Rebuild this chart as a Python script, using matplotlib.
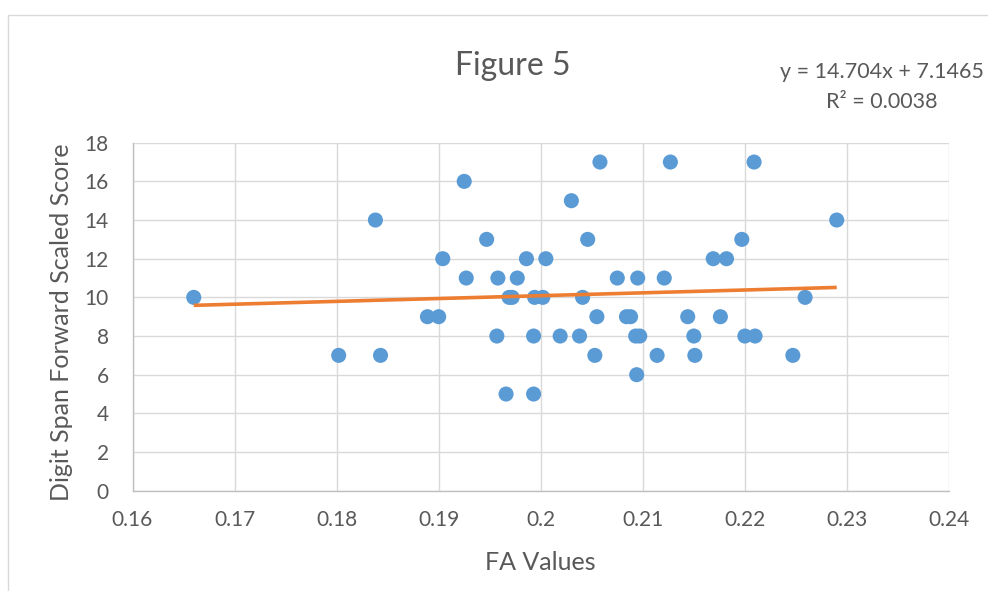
import matplotlib
matplotlib.use("Agg")
import matplotlib.pyplot as plt
from matplotlib.patches import Rectangle
import numpy as np

plt.rcParams['font.family'] = ['Lato', 'DejaVu Sans']

# ---- data ----
fa_values = [0.1660, 0.1838, 0.1802, 0.1843, 0.1925, 0.1947, 0.1904, 0.1927,
             0.1958, 0.1977, 0.1986, 0.2005, 0.1969, 0.1972, 0.1994, 0.2002,
             0.1889, 0.1900, 0.1957, 0.1993, 0.1966, 0.1993,
             0.2058, 0.2127, 0.2209, 0.2030, 0.2290, 0.2046, 0.2197, 0.2169,
             0.2182, 0.2075, 0.2095, 0.2121, 0.2041, 0.2259, 0.2055, 0.2084,
             0.2088, 0.2144, 0.2176, 0.2019, 0.2038, 0.2093, 0.2097, 0.2150,
             0.2200, 0.2210, 0.2053, 0.2114, 0.2151, 0.2247, 0.2094]
scores = [10, 14, 7, 7, 16, 13, 12, 11,
          11, 11, 12, 12, 10, 10, 10, 10,
          9, 9, 8, 8, 5, 5,
          17, 17, 17, 15, 14, 13, 13, 12,
          12, 11, 11, 11, 10, 10, 9, 9,
          9, 9, 9, 8, 8, 8, 8, 8,
          8, 8, 7, 7, 7, 7, 6]

trend_slope = 14.704
trend_intercept = 7.1465
equation_line1 = "y = 14.704x + 7.1465"
equation_line2 = "R² = 0.0038"

title = "Figure 5"
x_label = "FA Values"
y_label = "Digit Span Forward Scaled Score"
x_ticks = [0.16, 0.17, 0.18, 0.19, 0.20, 0.21, 0.22, 0.23, 0.24]
x_tick_labels = ["0.16", "0.17", "0.18", "0.19", "0.2", "0.21", "0.22", "0.23", "0.24"]
y_ticks = [0, 2, 4, 6, 8, 10, 12, 14, 16, 18]

# ---- figure ----
W, H = 988, 591
fig = plt.figure(figsize=(W / 100, H / 100), dpi=100)
fig.patch.set_facecolor('white')

def fx(px):
    return px / W

def fy(py):
    return 1 - py / H

# chart area border
fig.patches.append(Rectangle((fx(8), fy(600)), fx(1000) - fx(8), fy(15) - fy(600),
                             transform=fig.transFigure, fill=False,
                             edgecolor='#D9D9D9', linewidth=1.0))

left, right, top, bottom = 132.5, 949, 142.7, 490.7
ax = fig.add_axes([fx(left), fy(bottom), fx(right) - fx(left), fy(top) - fy(bottom)])

text_color = '#595959'
grid_color = '#D9D9D9'

ax.scatter(fa_values, scores, s=118, color='#5B9BD5', edgecolors='none', zorder=3)

xs = np.array([min(fa_values), max(fa_values)])
ax.plot(xs, trend_slope * xs + trend_intercept, color='#ED7D31', linewidth=2.6,
        solid_capstyle='butt', zorder=4)

ax.set_xlim(0.16, 0.24)
ax.set_ylim(0, 18)
ax.set_xticks(x_ticks)
ax.set_xticklabels(x_tick_labels)
ax.set_yticks(y_ticks)
ax.grid(True, color=grid_color, linewidth=1.0, zorder=0)
ax.set_axisbelow(True)
for side in ['top', 'right']:
    ax.spines[side].set_visible(False)
for side in ['left', 'bottom']:
    ax.spines[side].set_color('#BFBFBF')
    ax.spines[side].set_linewidth(1.0)
ax.tick_params(axis='both', length=0, labelsize=15, labelcolor=text_color)
ax.tick_params(axis='x', pad=14)
ax.tick_params(axis='y', pad=17)

fig.text(fx(513), fy(75), title, ha='center', va='baseline', fontsize=23, color=text_color)
fig.text(fx(540.5), fy(570), x_label, ha='center', va='baseline', fontsize=18, color=text_color)
fig.text(fx(62), fy(322), y_label, ha='center', va='center', rotation=90,
         fontsize=18, color=text_color)
fig.text(fx(882), fy(78), equation_line1, ha='center', va='baseline',
         fontsize=15.5, color=text_color)
fig.text(fx(882), fy(108), equation_line2, ha='center', va='baseline',
         fontsize=15.5, color=text_color)

fig.savefig('out.png', dpi=100, facecolor='white')
